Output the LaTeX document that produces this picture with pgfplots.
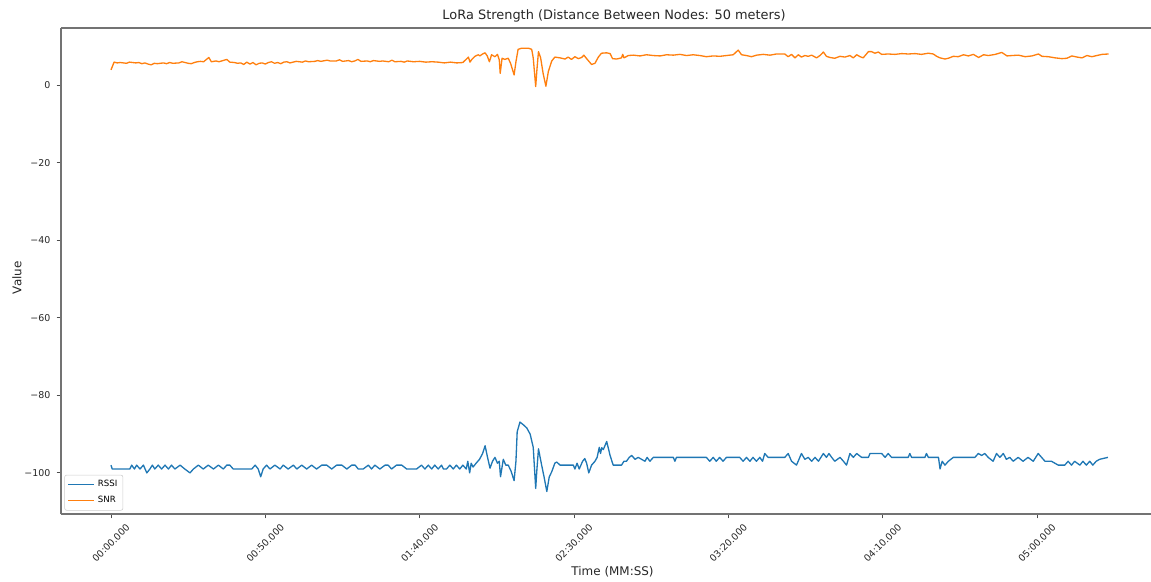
\documentclass[border=0pt]{standalone}
\usepackage{fontspec}
\setmainfont{DejaVu Sans}
\usepackage{pgfplots}
\usepackage{pgfplotstable}
\pgfplotsset{compat=1.18}
\definecolor{mplblue}{HTML}{1F77B4}
\definecolor{mplorange}{HTML}{FF7F0E}

% RSSI readings (dBm) against elapsed time (s)
\pgfplotstableread{
t v
0 -98
0.4 -99
6.1 -99
6.7 -98
7.6 -99
8.3 -98
9.4 -99
10.5 -98
11.6 -100
12.6 -99
13.4 -98
14.2 -99
15.3 -98
16.4 -99
17.5 -98
18.6 -99
19.6 -98
20.7 -99
22.4 -98
23.9 -99
25.6 -100
26.7 -99
28.3 -98
29.9 -99
31.5 -98
33.2 -99
34.8 -98
36.4 -99
37.5 -98
38.5 -98
39.6 -99
45.6 -99
46.7 -98
47.7 -99
48.5 -101
49.3 -99
50.4 -98
51.5 -99
53.1 -98
54.8 -99
55.8 -98
57.4 -99
59.1 -98
60.2 -99
61.8 -98
63.4 -99
65.0 -98
66.6 -99
68.3 -98
69.9 -98
71.5 -99
73.1 -98
74.8 -98
76.4 -99
78.0 -98
79.1 -98
80.1 -99
81.7 -99
83.4 -98
84.4 -99
85.5 -98
87.1 -99
88.8 -98
89.8 -98
90.9 -99
92.5 -98
94.2 -98
95.8 -99
99.0 -99
100.6 -98
101.7 -99
102.8 -98
103.9 -99
104.9 -98
106.0 -99
107.1 -98
107.7 -99
108.7 -99
109.8 -98
110.9 -99
111.9 -98
113.0 -99
114.0 -98
115.1 -99
115.6 -97
116.2 -100
116.7 -97.5
117.3 -98.5
118.3 -97.5
119.4 -96.5
120.4 -95
121.2 -93
122.0 -96
122.8 -98.8
123.6 -97
124.4 -96
125.2 -97.5
125.8 -97
126.2 -101
127.1 -96.5
127.9 -98
128.7 -98
129.6 -99.5
130.6 -102
131.2 -97
131.6 -89.4
132.5 -86.9
133.6 -87.6
134.7 -88.4
135.8 -90
136.8 -93.4
137.6 -104
138.0 -99
138.5 -93.8
139.5 -97.9
140.3 -101
141.2 -104.8
142.0 -101
142.8 -99.7
143.8 -97.5
144.4 -97.2
145.5 -98
147.6 -98
149.8 -98
150.3 -99
151.0 -97.5
151.7 -99
152.8 -97
153.5 -96.3
154.1 -97.5
154.8 -100
155.7 -98
156.8 -97
157.5 -96
158.2 -93.4
158.6 -95
159.0 -93.5
159.5 -94
160.6 -91.9
161.7 -95.5
162.7 -98
165.4 -98
166.2 -97
167.0 -97
167.9 -96
168.7 -95.5
169.8 -96.5
170.8 -96
171.9 -96.5
173.0 -97
173.7 -96
174.6 -97
175.7 -96
182.2 -96
182.7 -97
183.2 -96
192.9 -96
194.0 -97
195.1 -96
196.1 -97
197.2 -96
198.3 -97
199.4 -96
203.7 -96
204.8 -97
205.9 -96
207.0 -97
208.0 -96
209.1 -97
210.2 -96
211.1 -97
211.8 -95
212.9 -96
218.3 -96
219.4 -95
220.5 -97
222.1 -98
223.7 -95
224.8 -96.5
225.9 -96
227.0 -97
228.1 -96
229.2 -97
230.8 -95
231.8 -96
232.6 -95
233.5 -96
234.5 -97
236.2 -96
237.3 -97
238.3 -98
239.4 -95
240.5 -96
241.6 -95
243.2 -96
245.4 -96
245.9 -95
249.7 -95
250.8 -96
251.8 -95
252.9 -96
258.3 -96
258.8 -95
259.4 -96
263.7 -96
264.2 -95
264.8 -96
268.1 -96
268.6 -99
269.3 -97
270.2 -98
271.3 -97
272.9 -96
279.9 -96
281.0 -95
282.1 -95.5
283.1 -95
284.2 -96
285.8 -97
286.9 -95
288.0 -96
289.1 -95
290.1 -96.5
291.2 -96
292.3 -97
293.9 -96
295.5 -97
297.1 -96
298.8 -97
300.4 -95
301.5 -96
302.6 -97
304.7 -97
306.9 -98
309.0 -98
310.1 -97
311.2 -98
312.2 -97
313.9 -98
314.9 -97
316.0 -98
317.1 -97
318.1 -98
319.2 -97
320.3 -96.5
323.0 -96
}\rssi

% SNR readings (dB) against elapsed time (s)
\pgfplotstableread{
t v
0 3.9
1 5.9
2 5.7
3 5.8
5 5.6
6 5.9
8 5.7
9 5.8
10 5.5
11 5.7
12 5.4
13 5.2
14 5.6
15 5.5
17 5.7
18 5.5
19 5.8
20 5.6
22 5.7
23 6.0
24 5.8
25 5.6
26 5.5
27 5.8
28 6.0
29 6.1
30 6.0
31.7 7.1
32.5 6.0
34 6.2
35 6.0
37.5 6.6
38.5 5.9
40 5.8
41 5.6
42 5.7
43 5.3
44 5.9
45 5.4
46 5.8
47 5.2
48 5.6
49 5.7
50 5.4
51 5.8
52 6.0
53 5.6
54 5.8
55 5.5
56 5.9
57 6.0
58 5.7
59 5.9
60 6.1
62 5.9
63 6.2
64 6.0
66 6.1
67 6.3
68 6.1
70 6.4
71 6.2
73 6.2
74 6.5
75 6.1
77 6.3
78 6.0
79 6.2
80 6.6
81 6.1
83 6.2
84 6.0
85 6.3
87 6.1
88 6.2
90 6.0
91 6.4
92 6.0
94 6.1
95 5.9
96 6.2
98 6.0
100 6.1
102 5.9
104 6.0
106 5.9
108 5.7
110 5.9
112 5.7
114 5.8
115.8 7.2
116.3 5.9
116.8 6.5
117.9 7.4
119.0 7.8
119.5 7.5
120.4 8.0
121.2 8.3
121.9 7.5
122.6 6.0
123.3 7.8
124.4 7.3
125.2 7.9
125.8 6.5
126.1 3.0
126.7 6.9
127.6 6.6
128.7 6.9
129.5 5.5
130.6 2.6
131.2 6.0
131.9 9.2
133.1 9.5
135.2 9.5
136.3 9.2
136.8 7.0
137.6 -0.4
138.0 4.0
138.5 8.6
139.2 7.0
140.0 3.0
140.9 -0.3
141.7 3.5
142.8 6.2
143.8 7.2
145.5 7.0
147.1 6.7
148.1 7.2
149.2 6.6
150.3 7.3
151.4 6.8
152.5 7.1
153.2 7.7
154.1 6.8
155.7 5.3
156.8 5.6
157.9 7.2
158.9 8.2
160.6 8.3
161.7 8.1
162.5 6.8
163.8 6.7
165.4 7.0
165.8 7.9
166.2 7.0
167.6 7.6
169.2 7.7
171.4 7.5
173.5 7.8
175.7 7.6
177.9 7.5
180.0 7.8
182.2 7.7
184.3 7.9
186.5 7.6
188.6 7.8
190.8 7.6
192.9 7.3
195.1 7.5
197.3 7.4
199.4 7.6
201.6 7.8
203.2 9.0
204.3 7.8
205.9 7.6
207.5 7.3
209.2 7.7
211.3 7.9
213.5 7.7
215.6 8.0
218.3 8.0
219.4 7.3
220.5 7.9
221.6 7.0
222.7 7.8
223.7 7.2
224.8 7.6
225.9 7.4
227.0 7.7
228.6 7.0
229.7 7.6
230.8 8.5
231.8 7.4
232.9 7.1
234.5 6.9
236.2 7.4
237.8 7.2
239.4 7.6
240.5 7.0
241.6 7.8
242.7 7.3
243.7 7.0
245.4 8.6
246.4 8.6
247.5 8.2
248.6 8.5
249.7 7.9
251.8 8.0
254.0 7.9
256.2 8.1
258.3 8.0
260.5 8.1
262.6 7.9
264.8 8.2
266.4 8.0
267.5 7.4
268.6 7.0
270.2 6.7
271.3 6.9
272.9 7.4
274.5 7.3
276.2 7.8
277.8 7.5
279.4 7.9
281.1 7.1
282.7 7.8
284.3 7.6
286.5 7.9
288.6 8.4
290.3 7.5
291.9 7.6
294.0 7.7
296.2 7.3
298.4 7.5
300.5 8.0
301.6 7.4
303.7 7.3
305.9 7.0
308.1 6.8
309.7 6.9
311.3 7.5
313.0 7.2
314.6 7.0
316.2 7.6
317.8 7.3
319.4 7.6
321.1 7.9
323.2 8.0
}\snr

\begin{document}
\begin{tikzpicture}
\begin{axis}[
  at={(0,0)}, anchor=south west,
  scale only axis, width=807.12pt, height=349.92pt,
  xmin=-16.2, xmax=347.0, ymin=-110.6, ymax=14.7,
  % frame open on the right: top, bottom and left lines only
  axis x line*=box, axis y line*=left,
  xtick={0,50,100,150,200,250,300},
  xticklabels={00:00.000,00:50.000,01:40.000,02:30.000,03:20.000,04:10.000,05:00.000},
  ytick={-100,-80,-60,-40,-20,0},
  yticklabels={−100,−80,−60,−40,−20,0},
  tick align=outside, xtick pos=bottom, ytick pos=left, major tick length=3.2pt,
  tick style={black!70, line width=0.6pt},
  axis line style={black!55, line width=0.8pt, -},
  ticklabel style={font=\fontsize{6.8}{8}\selectfont, text=black!85},
  xticklabel style={rotate=45, anchor=center},
  xticklabel shift=17.6pt,
  yticklabel style={anchor=east, inner sep=0pt},
  yticklabel shift=4.3pt,
  every axis title shift=0pt,
  title={LoRa Strength (Distance Between Nodes: 50 meters)},
  title style={at={(axis cs:163,14.7)}, anchor=base, yshift=6.1pt, inner sep=0pt,
    font=\fontsize{9.3}{11}\selectfont, text=black!85},
  xlabel={Time (MM:SS)},
  xlabel style={at={(axis cs:162.5,-110.6)}, anchor=base, yshift=-44.6pt,
    inner sep=0pt, font=\fontsize{8.6}{10}\selectfont, text=black!85},
  ylabel={Value},
  ylabel style={at={(axis description cs:-0.0353,0.486)}, anchor=base,
    inner sep=0pt, font=\fontsize{8.6}{10}\selectfont, text=black!85},
  legend style={at={(0.003,0.007)}, anchor=south west, draw=black!20,
    rounded corners=1.5pt, fill=white, inner sep=2pt, row sep=1.2pt,
    font=\fontsize{6.2}{7.4}\selectfont, cells={anchor=west}},
  legend image code/.code={\draw[#1] (0pt,0pt) -- (19pt,0pt);},
]
\addplot[mplblue, line width=0.95pt, line join=round] table[x=t, y=v]{\rssi};
\addlegendentry{RSSI}
\addplot[mplorange, line width=0.95pt, line join=round] table[x=t, y=v]{\snr};
\addlegendentry{SNR}
\end{axis}
\pgfresetboundingbox
\path[use as bounding box] (-43.92pt,-48.24pt) rectangle (784.8pt,370.08pt);
\end{tikzpicture}
\end{document}
